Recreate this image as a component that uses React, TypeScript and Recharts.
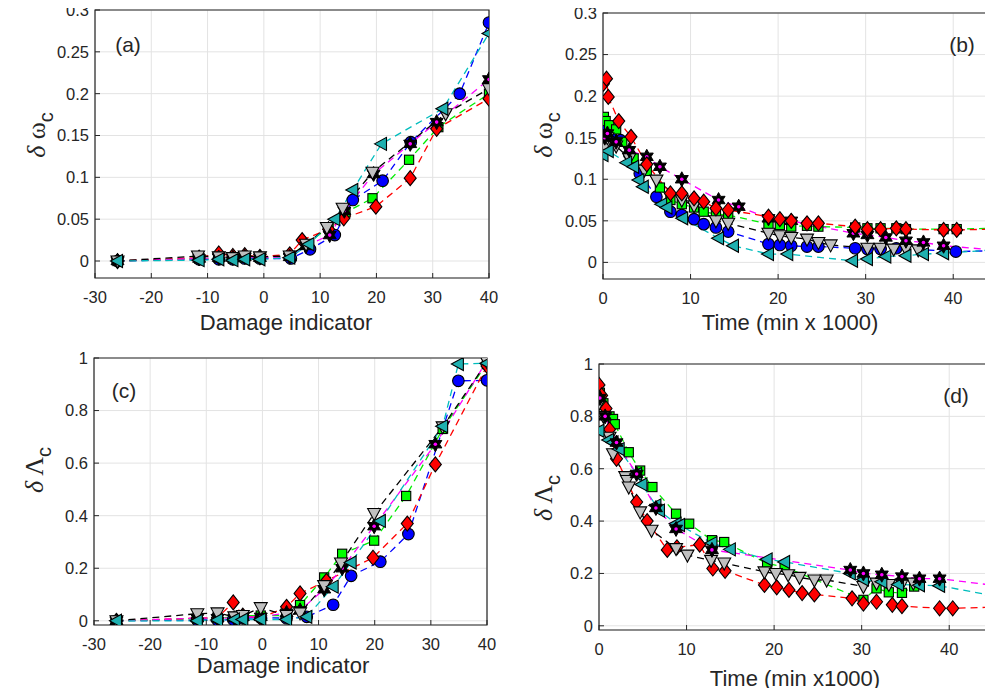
import React from 'react';
import { LineChart, Line, XAxis, YAxis, CartesianGrid, ReferenceArea } from 'recharts';

type Pt = { x: number; y: number };

// ---- panel (a): delta omega_c vs damage indicator ----
const aCircle: Pt[] = [
  { x: -26, y: 0 }, { x: -11.5, y: 0.002 }, { x: -8, y: 0.002 }, { x: -5.5, y: 0.002 }, { x: -3.4, y: 0.003 },
  { x: -0.7, y: 0.003 }, { x: 4.8, y: 0.003 }, { x: 8.2, y: 0.014 }, { x: 12.6, y: 0.031 }, { x: 15.8, y: 0.073 },
  { x: 21.1, y: 0.096 }, { x: 26.1, y: 0.142 }, { x: 34.8, y: 0.2 }, { x: 40, y: 0.285 },
];
const aSquare: Pt[] = [
  { x: -26, y: 0 }, { x: -11.5, y: 0.003 }, { x: -8, y: 0.004 }, { x: -5.5, y: 0.003 }, { x: -3.4, y: 0.004 },
  { x: -0.7, y: 0.004 }, { x: 4.6, y: 0.006 }, { x: 7.5, y: 0.02 }, { x: 11.5, y: 0.04 }, { x: 14.5, y: 0.058 },
  { x: 19.3, y: 0.075 }, { x: 25.8, y: 0.121 }, { x: 31, y: 0.16 }, { x: 40, y: 0.2 },
];
const aDiamond: Pt[] = [
  { x: -26, y: 0 }, { x: -11.5, y: 0.004 }, { x: -8, y: 0.009 }, { x: -5.5, y: 0.006 }, { x: -3.4, y: 0.007 },
  { x: -0.7, y: 0.005 }, { x: 4.6, y: 0.008 }, { x: 6.8, y: 0.025 }, { x: 11.5, y: 0.038 }, { x: 14.2, y: 0.051 },
  { x: 19.9, y: 0.065 }, { x: 26, y: 0.099 }, { x: 30.7, y: 0.158 }, { x: 40, y: 0.194 },
];
const aStar: Pt[] = [
  { x: -26, y: 0 }, { x: -11.5, y: 0.003 }, { x: -8, y: 0.004 }, { x: -5.5, y: 0.004 }, { x: -3.4, y: 0.005 },
  { x: -0.7, y: 0.004 }, { x: 4.6, y: 0.005 }, { x: 7.5, y: 0.018 }, { x: 11.7, y: 0.031 }, { x: 14.3, y: 0.06 },
  { x: 19.5, y: 0.104 }, { x: 26, y: 0.14 }, { x: 30.7, y: 0.166 }, { x: 40, y: 0.217 },
];
const aTriDown: Pt[] = [
  { x: -26, y: 0 }, { x: -11.7, y: 0.006 }, { x: -8, y: 0.005 }, { x: -5.5, y: 0.004 }, { x: -3.4, y: 0.006 },
  { x: -0.7, y: 0.005 }, { x: 4.6, y: 0.006 }, { x: 7.5, y: 0.02 }, { x: 11.2, y: 0.04 }, { x: 14, y: 0.063 },
  { x: 19.3, y: 0.106 }, { x: 32.3, y: 0.176 }, { x: 40, y: 0.206 },
];
const aTriLeft: Pt[] = [
  { x: -26, y: 0 }, { x: -11.5, y: 0.001 }, { x: -8, y: 0.002 }, { x: -5.5, y: 0.001 }, { x: -3.4, y: 0.002 },
  { x: -0.7, y: 0.002 }, { x: 4.6, y: 0.004 }, { x: 8, y: 0.02 }, { x: 12.6, y: 0.05 }, { x: 15.8, y: 0.085 },
  { x: 20.9, y: 0.14 }, { x: 31.8, y: 0.182 }, { x: 40, y: 0.272 },
];

// ---- panel (b): delta omega_c vs time ----
const bCircle: Pt[] = [
  { x: 0.1, y: 0.15 }, { x: 0.4, y: 0.165 }, { x: 0.9, y: 0.155 }, { x: 2, y: 0.147 }, { x: 3, y: 0.13 },
  { x: 4.2, y: 0.107 }, { x: 6.1, y: 0.079 }, { x: 7.7, y: 0.061 }, { x: 9, y: 0.057 }, { x: 10.4, y: 0.052 },
  { x: 11.5, y: 0.046 }, { x: 12.9, y: 0.042 }, { x: 14.3, y: 0.037 }, { x: 18.9, y: 0.022 }, { x: 20.2, y: 0.021 },
  { x: 21.5, y: 0.02 }, { x: 23.3, y: 0.019 }, { x: 24.6, y: 0.019 }, { x: 28.8, y: 0.017 }, { x: 30.2, y: 0.016 },
  { x: 31.7, y: 0.016 }, { x: 33.5, y: 0.017 }, { x: 40.3, y: 0.013 }, { x: 44.6, y: 0.014 },
];
const bSquare: Pt[] = [
  { x: 0.1, y: 0.175 }, { x: 0.3, y: 0.17 }, { x: 0.7, y: 0.165 }, { x: 1.5, y: 0.16 }, { x: 2.2, y: 0.145 },
  { x: 3.5, y: 0.125 }, { x: 5, y: 0.11 }, { x: 6.5, y: 0.09 }, { x: 7.7, y: 0.075 }, { x: 9, y: 0.07 },
  { x: 10.4, y: 0.066 }, { x: 11.5, y: 0.061 }, { x: 12.9, y: 0.058 }, { x: 14.3, y: 0.057 }, { x: 18.9, y: 0.046 },
  { x: 20.2, y: 0.045 }, { x: 21.5, y: 0.043 }, { x: 23.3, y: 0.044 }, { x: 24.6, y: 0.043 }, { x: 28.8, y: 0.042 },
  { x: 30.2, y: 0.041 }, { x: 31.7, y: 0.041 }, { x: 33.5, y: 0.041 }, { x: 34.6, y: 0.04 }, { x: 38.9, y: 0.04 },
  { x: 40.4, y: 0.04 }, { x: 44.6, y: 0.041 },
];
const bDiamond: Pt[] = [
  { x: 0.05, y: 0.215 }, { x: 0.4, y: 0.221 }, { x: 0.6, y: 0.199 }, { x: 1.8, y: 0.17 }, { x: 3.2, y: 0.151 },
  { x: 5, y: 0.118 }, { x: 7.7, y: 0.083 }, { x: 9, y: 0.083 }, { x: 10.4, y: 0.077 }, { x: 11.5, y: 0.073 },
  { x: 12.9, y: 0.065 }, { x: 14.3, y: 0.063 }, { x: 18.9, y: 0.055 }, { x: 20.2, y: 0.052 }, { x: 21.5, y: 0.05 },
  { x: 23.3, y: 0.047 }, { x: 24.6, y: 0.047 }, { x: 28.8, y: 0.043 }, { x: 30.2, y: 0.04 }, { x: 31.7, y: 0.04 },
  { x: 33.5, y: 0.041 }, { x: 34.6, y: 0.04 }, { x: 38.9, y: 0.039 }, { x: 40.4, y: 0.039 }, { x: 44.6, y: 0.04 },
];
const bStar: Pt[] = [
  { x: 0.2, y: 0.15 }, { x: 0.5, y: 0.155 }, { x: 1.5, y: 0.145 }, { x: 3, y: 0.135 }, { x: 5, y: 0.127 },
  { x: 6.5, y: 0.115 }, { x: 9, y: 0.1 }, { x: 13.2, y: 0.075 }, { x: 15.5, y: 0.067 }, { x: 18.9, y: 0.053 },
  { x: 21.5, y: 0.05 }, { x: 28.6, y: 0.035 }, { x: 30.2, y: 0.033 }, { x: 32.3, y: 0.03 }, { x: 34.6, y: 0.026 },
  { x: 36.6, y: 0.024 }, { x: 38.9, y: 0.02 }, { x: 44.6, y: 0.015 },
];
const bTriDown: Pt[] = [
  { x: 0.2, y: 0.14 }, { x: 0.5, y: 0.15 }, { x: 1.5, y: 0.14 }, { x: 3, y: 0.125 }, { x: 4.7, y: 0.111 },
  { x: 6.1, y: 0.099 }, { x: 9, y: 0.075 }, { x: 10.4, y: 0.068 }, { x: 12.9, y: 0.05 }, { x: 14.3, y: 0.047 },
  { x: 18.9, y: 0.035 }, { x: 20.2, y: 0.032 }, { x: 21.5, y: 0.03 }, { x: 23.3, y: 0.028 }, { x: 24.6, y: 0.024 },
  { x: 26, y: 0.021 }, { x: 30.2, y: 0.017 }, { x: 31.7, y: 0.017 }, { x: 33.2, y: 0.016 }, { x: 34.6, y: 0.016 },
  { x: 36, y: 0.015 },
];
const bTriLeft: Pt[] = [
  { x: 0, y: 0.129 }, { x: 0.6, y: 0.134 }, { x: 2.7, y: 0.12 }, { x: 3.5, y: 0.115 }, { x: 4.1, y: 0.099 },
  { x: 4.6, y: 0.091 }, { x: 6.7, y: 0.07 }, { x: 7.3, y: 0.066 }, { x: 9.1, y: 0.053 }, { x: 13.2, y: 0.029 },
  { x: 14.9, y: 0.02 }, { x: 18.9, y: 0.01 }, { x: 21.1, y: 0.01 }, { x: 28.5, y: 0.002 }, { x: 30.2, y: 0.004 },
  { x: 32.3, y: 0.007 }, { x: 34.6, y: 0.008 }, { x: 36.6, y: 0.01 }, { x: 38.9, y: 0.011 }, { x: 44.6, y: 0.015 },
];

// ---- panel (c): delta Lambda_c vs damage indicator ----
const cCircle: Pt[] = [
  { x: -26, y: 0 }, { x: -11.6, y: 0.003 }, { x: -8, y: 0.003 }, { x: -5.2, y: 0.005 }, { x: -3.5, y: 0.01 },
  { x: -0.3, y: 0.012 }, { x: 4.3, y: 0.01 }, { x: 7.9, y: 0.015 }, { x: 12.6, y: 0.061 }, { x: 15.8, y: 0.171 },
  { x: 21, y: 0.225 }, { x: 26, y: 0.33 }, { x: 34.9, y: 0.913 }, { x: 40, y: 0.915 },
];
const cSquare: Pt[] = [
  { x: -26, y: 0 }, { x: -11.6, y: 0.008 }, { x: -8, y: 0.01 }, { x: -5, y: 0.015 }, { x: -3.5, y: 0.02 },
  { x: -0.3, y: 0.02 }, { x: 4.3, y: 0.02 }, { x: 6.7, y: 0.06 }, { x: 11, y: 0.165 }, { x: 14.2, y: 0.255 },
  { x: 19.9, y: 0.305 }, { x: 25.6, y: 0.475 }, { x: 32.1, y: 0.73 }, { x: 40, y: 0.98 },
];
const cDiamond: Pt[] = [
  { x: -26, y: 0 }, { x: -11.6, y: 0.01 }, { x: -8, y: 0.012 }, { x: -5.2, y: 0.07 }, { x: -3.5, y: 0.02 },
  { x: -0.3, y: 0.01 }, { x: 4.3, y: 0.053 }, { x: 6.7, y: 0.104 }, { x: 11.4, y: 0.152 }, { x: 19.7, y: 0.24 },
  { x: 25.8, y: 0.37 }, { x: 30.8, y: 0.595 }, { x: 40, y: 0.97 },
];
const cStar: Pt[] = [
  { x: -26, y: 0 }, { x: -11.6, y: 0.01 }, { x: -8, y: 0.01 }, { x: -5, y: 0.01 }, { x: -3.5, y: 0.015 },
  { x: -0.3, y: 0.015 }, { x: 4.3, y: 0.03 }, { x: 6.7, y: 0.04 }, { x: 11, y: 0.12 }, { x: 14.2, y: 0.2 },
  { x: 19.9, y: 0.36 }, { x: 30.8, y: 0.672 }, { x: 40, y: 0.99 },
];
const cTriDown: Pt[] = [
  { x: -26, y: 0 }, { x: -11.6, y: 0.027 }, { x: -8, y: 0.03 }, { x: -5, y: 0.015 }, { x: -3.5, y: 0.02 },
  { x: -0.3, y: 0.05 }, { x: 4.3, y: 0.02 }, { x: 6.7, y: 0.03 }, { x: 11, y: 0.134 }, { x: 14, y: 0.22 },
  { x: 19.9, y: 0.408 }, { x: 32.1, y: 0.738 }, { x: 40, y: 0.985 },
];
const cTriLeft: Pt[] = [
  { x: -26, y: 0 }, { x: -11.6, y: 0 }, { x: -8, y: 0.003 }, { x: -5, y: 0.005 }, { x: -3.5, y: 0.005 },
  { x: -0.3, y: 0.005 }, { x: 4.3, y: 0.005 }, { x: 7.9, y: 0.015 }, { x: 12.6, y: 0.13 }, { x: 15.8, y: 0.222 },
  { x: 21, y: 0.38 }, { x: 32.1, y: 0.74 }, { x: 34.9, y: 0.977 }, { x: 40, y: 0.98 },
];

// ---- panel (d): delta Lambda_c vs time ----
const dSquare: Pt[] = [
  { x: 0.1, y: 0.89 }, { x: 0.5, y: 0.85 }, { x: 1.2, y: 0.8 }, { x: 1.6, y: 0.79 }, { x: 1.8, y: 0.77 },
  { x: 3.4, y: 0.663 }, { x: 4.7, y: 0.593 }, { x: 6.1, y: 0.53 }, { x: 8.8, y: 0.428 }, { x: 10.3, y: 0.39 },
  { x: 12.9, y: 0.327 }, { x: 14.3, y: 0.32 }, { x: 19.2, y: 0.238 }, { x: 21.2, y: 0.225 }, { x: 30.2, y: 0.099 },
  { x: 31.7, y: 0.143 }, { x: 33.1, y: 0.128 }, { x: 34.6, y: 0.126 }, { x: 36, y: 0.15 },
];
const dDiamond: Pt[] = [
  { x: 0, y: 0.92 }, { x: 0.3, y: 0.88 }, { x: 0.8, y: 0.83 }, { x: 1.2, y: 0.75 }, { x: 2, y: 0.638 },
  { x: 4.3, y: 0.473 }, { x: 5.5, y: 0.4 }, { x: 7.8, y: 0.29 }, { x: 8.9, y: 0.3 }, { x: 11.5, y: 0.31 },
  { x: 13, y: 0.219 }, { x: 14.4, y: 0.21 }, { x: 18.9, y: 0.156 }, { x: 20.3, y: 0.147 }, { x: 21.7, y: 0.137 },
  { x: 23.2, y: 0.125 }, { x: 24.6, y: 0.12 }, { x: 28.9, y: 0.105 }, { x: 30.2, y: 0.085 }, { x: 31.7, y: 0.092 },
  { x: 33.5, y: 0.08 }, { x: 34.6, y: 0.075 }, { x: 38.9, y: 0.067 }, { x: 40.4, y: 0.067 }, { x: 44.9, y: 0.071 },
];
const dStar: Pt[] = [
  { x: 0.1, y: 0.87 }, { x: 0.7, y: 0.8 }, { x: 2, y: 0.7 }, { x: 4.3, y: 0.58 }, { x: 6.5, y: 0.45 },
  { x: 8.8, y: 0.37 }, { x: 12.9, y: 0.29 }, { x: 28.7, y: 0.213 }, { x: 30.2, y: 0.2 }, { x: 32.3, y: 0.195 },
  { x: 34.6, y: 0.188 }, { x: 36.6, y: 0.18 }, { x: 38.9, y: 0.18 }, { x: 45, y: 0.155 },
];
const dTriDown: Pt[] = [
  { x: 0, y: 0.85 }, { x: 0.5, y: 0.8 }, { x: 1.2, y: 0.72 }, { x: 1.6, y: 0.657 }, { x: 3, y: 0.57 },
  { x: 3.2, y: 0.555 }, { x: 3.4, y: 0.53 }, { x: 4.7, y: 0.435 }, { x: 6, y: 0.365 }, { x: 8.8, y: 0.295 },
  { x: 10.1, y: 0.27 }, { x: 12.8, y: 0.25 }, { x: 14.3, y: 0.24 }, { x: 18.9, y: 0.206 }, { x: 20.2, y: 0.2 },
  { x: 21.6, y: 0.195 }, { x: 22.9, y: 0.185 }, { x: 24.6, y: 0.175 }, { x: 26, y: 0.175 }, { x: 30.2, y: 0.15 },
  { x: 31.7, y: 0.163 }, { x: 33.1, y: 0.158 }, { x: 34.6, y: 0.16 }, { x: 35.9, y: 0.163 },
];
const dTriLeft: Pt[] = [
  { x: 0, y: 0.745 }, { x: 1.1, y: 0.71 }, { x: 1.6, y: 0.7 }, { x: 2.3, y: 0.675 }, { x: 4.3, y: 0.58 },
  { x: 4.9, y: 0.54 }, { x: 6.5, y: 0.46 }, { x: 6.9, y: 0.44 }, { x: 8.8, y: 0.39 }, { x: 9.2, y: 0.385 },
  { x: 12.9, y: 0.316 }, { x: 15, y: 0.292 }, { x: 19.2, y: 0.254 }, { x: 21.2, y: 0.244 }, { x: 28.7, y: 0.2 },
  { x: 30.2, y: 0.177 }, { x: 32.3, y: 0.168 }, { x: 34.2, y: 0.158 }, { x: 36.6, y: 0.155 }, { x: 38.9, y: 0.153 },
  { x: 45, y: 0.115 },
];

const damageTicks = [-30, -20, -10, 0, 10, 20, 30, 40];
const timeTicks = [0, 10, 20, 30, 40];
const omegaTicks = [0, 0.05, 0.1, 0.15, 0.2, 0.25, 0.3];
const lambdaTicks = [0, 0.2, 0.4, 0.6, 0.8, 1];

type Kind = 'circle' | 'square' | 'diamond' | 'star' | 'triDown' | 'triLeft';

const markerFill: Record<Kind, string> = {
  circle: '#0000ff',
  square: '#00ff00',
  diamond: '#ff0000',
  star: '#ff00ff',
  triDown: '#c0c0c0',
  triLeft: '#1fb0b0',
};
const lineColor: Record<Kind, string> = {
  circle: '#0000ff',
  square: '#00ee00',
  diamond: '#ff0000',
  star: '#ff00ff',
  triDown: '#000000',
  triLeft: '#00bdbd',
};

function Marker({ cx, cy, kind }: { cx: number; cy: number; kind: Kind }) {
  if (cx == null || cy == null || isNaN(cx) || isNaN(cy)) return null;
  const fill = markerFill[kind];
  const sp = { fill, stroke: '#000', strokeWidth: 1.1 };
  if (kind === 'circle') return <circle cx={cx} cy={cy} r={5.8} {...sp} />;
  if (kind === 'square') return <rect x={cx - 4.6} y={cy - 4.6} width={9.2} height={9.2} {...sp} />;
  if (kind === 'diamond')
    return <polygon points={`${cx},${cy - 7.5} ${cx + 6},${cy} ${cx},${cy + 7.5} ${cx - 6},${cy}`} {...sp} />;
  if (kind === 'triDown')
    return <polygon points={`${cx - 6.5},${cy - 5} ${cx + 6.5},${cy - 5} ${cx},${cy + 7}`} {...sp} />;
  if (kind === 'triLeft')
    return <polygon points={`${cx - 7},${cy} ${cx + 5},${cy - 6.5} ${cx + 5},${cy + 6.5}`} {...sp} />;
  // hexagram: mostly black edge with a small magenta heart
  const pts: string[] = [];
  for (let i = 0; i < 12; i++) {
    const r = i % 2 === 0 ? 7.5 : 4.2;
    const a = -Math.PI / 2 + (i * Math.PI) / 6;
    pts.push(`${cx + r * Math.cos(a)},${cy + r * Math.sin(a)}`);
  }
  return (
    <g>
      <polygon points={pts.join(' ')} fill="#000" stroke="#000" strokeWidth={1} />
      <circle cx={cx} cy={cy} r={1.8} fill={fill} />
    </g>
  );
}

type Panel = {
  left: number;
  top: number;
  w: number;
  h: number;
  xDomain: [number, number];
  yDomain: [number, number];
  xTicks: number[];
  yTicks: number[];
  series: { kind: Kind; data: Pt[] }[];
};

const tickStyle = { fontSize: 16.5, fill: '#262626', fontFamily: '"Liberation Sans", Arial, sans-serif' };
const ML = 70;
const MT = 20;

function PanelChart({ p }: { p: Panel }) {
  return (
    <div style={{ position: 'absolute', left: p.left - ML, top: p.top - MT }}>
      <LineChart width={p.w + ML + 10} height={p.h + MT + 40} margin={{ top: MT, right: 10, bottom: 0, left: 0 }}>
        <CartesianGrid stroke="#e3e3e3" />
        <XAxis
          dataKey="x"
          type="number"
          domain={p.xDomain}
          ticks={p.xTicks}
          allowDataOverflow
          height={40}
          axisLine={false}
          tickSize={-5}
          tickMargin={18}
          tickLine={{ stroke: '#262626' }}
          tick={tickStyle}
          interval={0}
        />
        <YAxis
          type="number"
          domain={p.yDomain}
          ticks={p.yTicks}
          allowDataOverflow
          width={ML}
          axisLine={false}
          tickSize={-5}
          tickMargin={11}
          tickLine={{ stroke: '#262626' }}
          tick={tickStyle}
          interval={0}
        />
        <ReferenceArea
          x1={p.xDomain[0]}
          x2={p.xDomain[1]}
          y1={p.yDomain[0]}
          y2={p.yDomain[1]}
          fill="none"
          stroke="#262626"
          strokeWidth={1.2}
        />
        {p.series.map((s) => (
          <Line
            key={s.kind}
            data={s.data}
            dataKey="y"
            type="linear"
            stroke={lineColor[s.kind]}
            strokeWidth={1.3}
            strokeDasharray="7 5"
            isAnimationActive={false}
            dot={(d: any) => <Marker key={`${s.kind}-${d.index}`} cx={d.cx} cy={d.cy} kind={s.kind} />}
            activeDot={false}
          />
        ))}
      </LineChart>
    </div>
  );
}

const panels: Panel[] = [
  {
    left: 95, top: 10, w: 394, h: 268, xDomain: [-30, 40], yDomain: [-0.0203, 0.3], xTicks: damageTicks, yTicks: omegaTicks,
    series: [
      { kind: 'circle', data: aCircle }, { kind: 'square', data: aSquare }, { kind: 'diamond', data: aDiamond },
      { kind: 'star', data: aStar }, { kind: 'triDown', data: aTriDown }, { kind: 'triLeft', data: aTriLeft },
    ],
  },
  {
    left: 603, top: 13, w: 394, h: 266, xDomain: [0, 45], yDomain: [-0.02, 0.3], xTicks: timeTicks, yTicks: omegaTicks,
    series: [
      { kind: 'circle', data: bCircle }, { kind: 'square', data: bSquare }, { kind: 'triDown', data: bTriDown },
      { kind: 'triLeft', data: bTriLeft }, { kind: 'star', data: bStar }, { kind: 'diamond', data: bDiamond },
    ],
  },
  {
    left: 94, top: 358, w: 393, h: 267, xDomain: [-30, 40], yDomain: [-0.016, 1], xTicks: damageTicks, yTicks: lambdaTicks,
    series: [
      { kind: 'circle', data: cCircle }, { kind: 'square', data: cSquare }, { kind: 'diamond', data: cDiamond },
      { kind: 'star', data: cStar }, { kind: 'triDown', data: cTriDown }, { kind: 'triLeft', data: cTriLeft },
    ],
  },
  {
    left: 599, top: 364, w: 394, h: 266, xDomain: [0, 45], yDomain: [-0.016, 1], xTicks: timeTicks, yTicks: lambdaTicks,
    series: [
      { kind: 'square', data: dSquare }, { kind: 'diamond', data: dDiamond }, { kind: 'triDown', data: dTriDown },
      { kind: 'triLeft', data: dTriLeft }, { kind: 'star', data: dStar },
    ],
  },
];

const sans = '"Liberation Sans", Arial, sans-serif';
const serif = '"Liberation Serif", "DejaVu Serif", serif';

function Abs({ x, y, rotate, size, children }: { x: number; y: number; rotate?: boolean; size: number; children: React.ReactNode }) {
  return (
    <div
      style={{
        position: 'absolute',
        left: x,
        top: y,
        transform: `translate(-50%, -50%)${rotate ? ' rotate(-90deg)' : ''}`,
        whiteSpace: 'nowrap',
        fontSize: size,
        fontFamily: sans,
        color: '#262626',
        lineHeight: 1,
      }}
    >
      {children}
    </div>
  );
}

function YTitle({ sym }: { sym: string }) {
  return (
    <span>
      <span style={{ fontFamily: serif, fontStyle: 'italic', fontSize: 26 }}>δ</span>
      <span style={{ fontFamily: serif, fontSize: 26 }}> {sym}</span>
      <span style={{ fontFamily: sans, fontSize: 20, position: 'relative', top: 8 }}>c</span>
    </span>
  );
}

export default function App() {
  return (
    <div style={{ position: 'relative', width: 993, height: 696, margin: -8, overflow: 'hidden', background: '#fff' }}>
      {panels.map((p, i) => (
        <PanelChart key={i} p={p} />
      ))}
      <Abs x={128} y={44} size={21}>(a)</Abs>
      <Abs x={962} y={44} size={21}>(b)</Abs>
      <Abs x={124} y={390} size={21}>(c)</Abs>
      <Abs x={956} y={395} size={21}>(d)</Abs>
      <Abs x={286} y={323} size={22}>Damage indicator</Abs>
      <Abs x={790} y={323} size={22}>Time (min x 1000)</Abs>
      <Abs x={283} y={666} size={22}>Damage indicator</Abs>
      <Abs x={795} y={679} size={22}>Time (min x1000)</Abs>
      <Abs x={36} y={135} size={26} rotate><YTitle sym="ω" /></Abs>
      <Abs x={543} y={135} size={26} rotate><YTitle sym="ω" /></Abs>
      <Abs x={34} y={470} size={26} rotate><YTitle sym="Λ" /></Abs>
      <Abs x={543} y={498} size={26} rotate><YTitle sym="Λ" /></Abs>
    </div>
  );
}
